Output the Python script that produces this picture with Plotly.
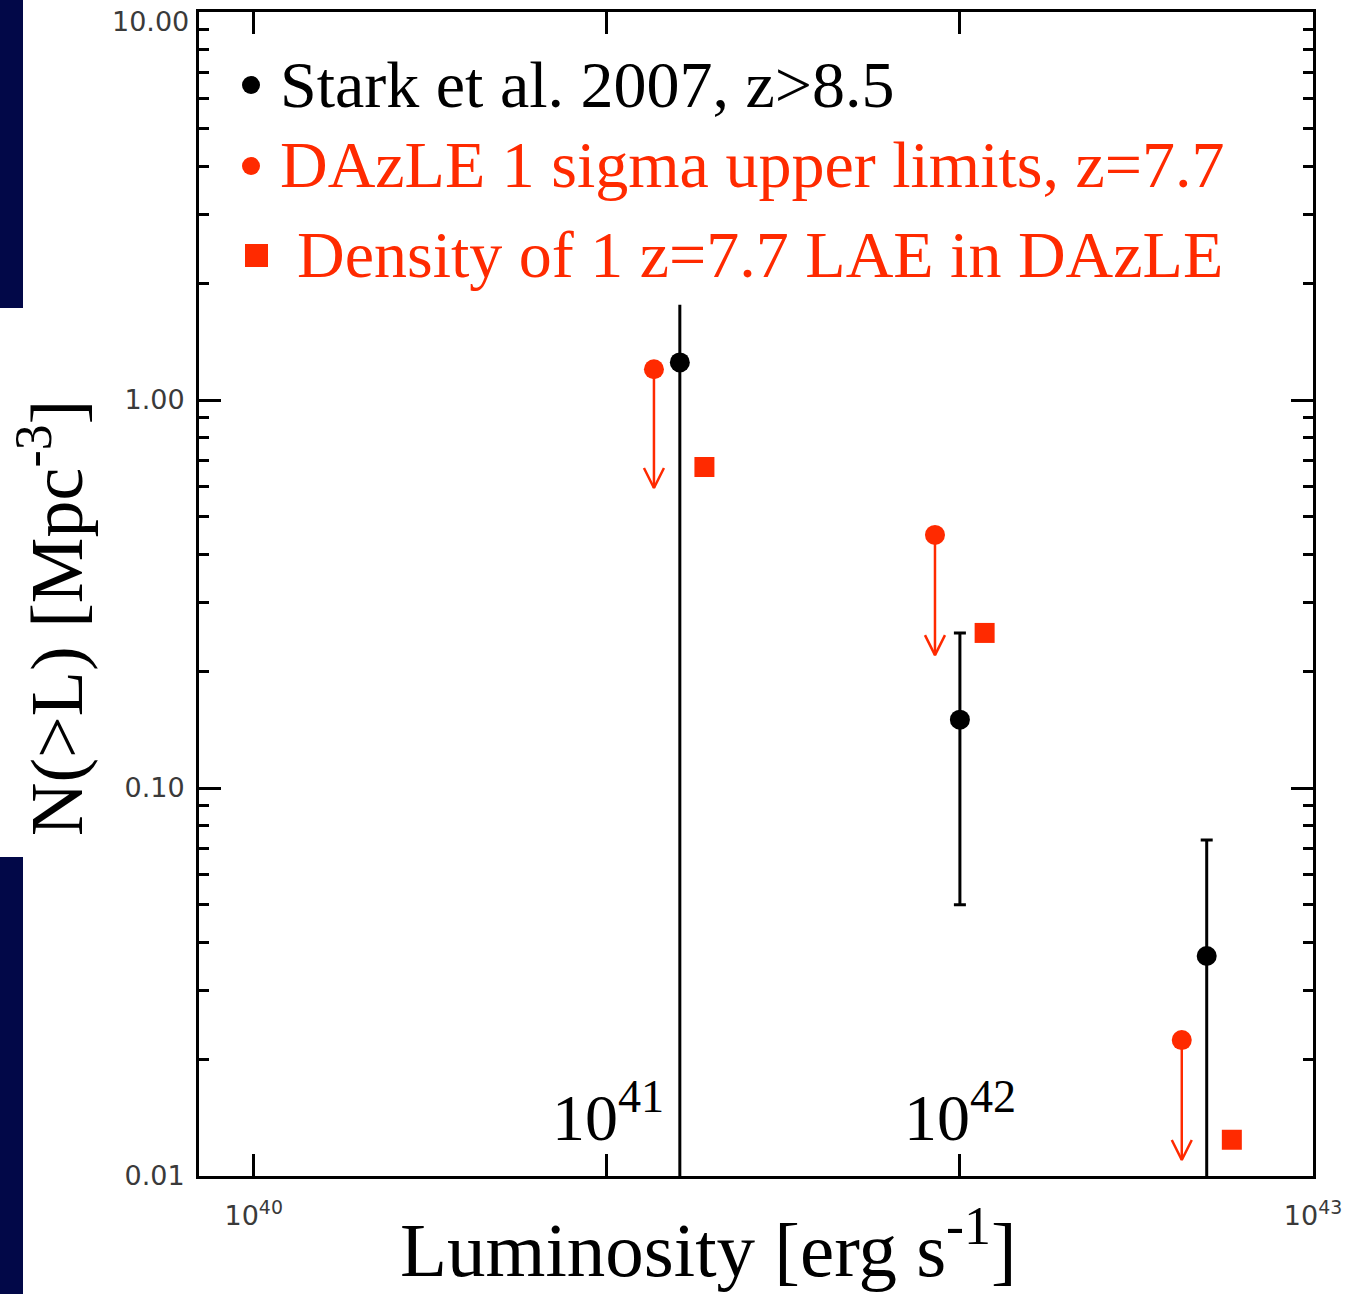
import numpy as np
import plotly.graph_objects as go

# ---------------- data ----------------
stark_L = [1.61e41, 1.0e42, 5.0e42]
stark_N = [1.25, 0.150, 0.0369]
stark_N_hi = [1.76, 0.251, 0.0734]
stark_N_lo = [1e-3, 0.0500, 1e-3]   # lower ends below the plotted range

dazle_L = [1.36e41, 8.5e41, 4.25e42]
dazle_N = [1.20, 0.449, 0.0224]
dazle_arrow_tip = [0.593, 0.220, 0.0110]

lae_L = [1.89e41, 1.175e42, 5.89e42]
lae_N = [0.672, 0.251, 0.0124]

y_tickvals = [0.01, 0.1, 1.0, 10.0]
y_ticktext = ["0.01", "0.10", "1.00", ""]
y_top_label = "10.00"          # top tick label, drawn slightly below the frame corner
x_tickvals = [1e40, 1e41, 1e42, 1e43]
x_ticktext = ["10<sup>40</sup>", "", "", "10<sup>43</sup>"]

legend_labels = ["Stark et al. 2007, z>8.5",
                 "DAzLE 1 sigma upper limits, z=7.7",
                 "Density of 1 z=7.7 LAE in DAzLE"]

RED = "#ff2a00"
BLACK = "#000000"
SERIF = "Liberation Serif, Times New Roman, serif"
TICKFONT = dict(family="DejaVu Sans, Arial, sans-serif", size=27, color="#3a3a3a")

# ---------------- layout geometry ----------------
W, H = 1348, 1294
L, R, T, B = 199, 1313, 12, 1176
X_RANGE = [np.log10(7e39), 43.0]
Y_RANGE = [-2.0, 1.0]


def px(x):
    return (x - L) / (R - L)


def py(y):
    return (B - y) / (B - T)


fig = go.Figure()

# Stark et al. points: first with uncapped bar, others with caps
for idx, capw in (([0], 0), ([1, 2], 6)):
    xs = [stark_L[i] for i in idx]
    ys = [stark_N[i] for i in idx]
    up = [stark_N_hi[i] - stark_N[i] for i in idx]
    dn = [stark_N[i] - stark_N_lo[i] for i in idx]
    fig.add_trace(go.Scatter(
        x=xs, y=ys, mode="markers",
        marker=dict(color=BLACK, size=20, symbol="circle"),
        error_y=dict(type="data", symmetric=False, array=up, arrayminus=dn,
                     color=BLACK, thickness=3, width=capw),
        showlegend=False, hoverinfo="skip"))

# DAzLE upper-limit arrows (shaft + open V head), built from data
dec_x = (X_RANGE[1] - X_RANGE[0]) / (R - L)   # decades per pixel
dec_y = (Y_RANGE[1] - Y_RANGE[0]) / (B - T)
head_hw, head_h = 10, 20
ax_, ay_ = [], []
for xv, y0, yt in zip(dazle_L, dazle_N, dazle_arrow_tip):
    ax_ += [xv, xv, None]
    ay_ += [y0, yt, None]
    ax_ += [xv * 10 ** (-head_hw * dec_x), xv, xv * 10 ** (head_hw * dec_x), None]
    ay_ += [yt * 10 ** (head_h * dec_y), yt, yt * 10 ** (head_h * dec_y), None]
fig.add_trace(go.Scatter(x=ax_, y=ay_, mode="lines",
                         line=dict(color=RED, width=2.5),
                         showlegend=False, hoverinfo="skip"))

fig.add_trace(go.Scatter(
    x=dazle_L, y=dazle_N, mode="markers",
    marker=dict(color=RED, size=20, symbol="circle"),
    showlegend=False, hoverinfo="skip"))

fig.add_trace(go.Scatter(
    x=lae_L, y=lae_N, mode="markers",
    marker=dict(color=RED, size=20, symbol="square"),
    showlegend=False, hoverinfo="skip"))

# ---------------- shapes ----------------
shapes = []
NAVY = "#020848"
for y0, y1 in ((0, 308), (857, 1294)):
    shapes.append(dict(type="rect", xref="paper", yref="paper",
                       x0=px(0), x1=px(23), y0=py(y1), y1=py(y0),
                       fillcolor=NAVY, line=dict(width=0), layer="below"))
# legend markers
shapes.append(dict(type="circle", xref="paper", yref="paper",
                   x0=px(242), x1=px(260), y0=py(94), y1=py(76),
                   fillcolor=BLACK, line=dict(width=0)))
shapes.append(dict(type="circle", xref="paper", yref="paper",
                   x0=px(242), x1=px(260), y0=py(175), y1=py(157),
                   fillcolor=RED, line=dict(width=0)))
shapes.append(dict(type="rect", xref="paper", yref="paper",
                   x0=px(245), x1=px(268), y0=py(267), y1=py(244),
                   fillcolor=RED, line=dict(width=0)))

# ---------------- annotations ----------------
ann = []
for lab, col, xl, yc in zip(legend_labels, [BLACK, RED, RED], [278, 278, 295], [84, 165, 254]):
    ann.append(dict(text=lab, xref="paper", yref="paper", x=px(xl), y=py(yc),
                    xanchor="left", yanchor="middle", showarrow=False,
                    font=dict(family=SERIF, size=66, color=col)))

for dec, xc in ((41, 608), (42, 960)):
    ann.append(dict(text="10<sup>%d</sup>" % dec, xref="paper", yref="paper",
                    x=px(xc), y=py(1112), xanchor="center", yanchor="middle",
                    showarrow=False, font=dict(family=SERIF, size=66, color=BLACK)))

ann.append(dict(text=y_top_label, xref="paper", yref="paper",
                x=px(191), y=py(22), xanchor="right", yanchor="middle",
                showarrow=False, font=TICKFONT))

ann.append(dict(text="Luminosity [erg s<sup>-1</sup>]", xref="paper", yref="paper",
                x=px(708), y=py(1244), xanchor="center", yanchor="middle",
                showarrow=False, font=dict(family=SERIF, size=77, color=BLACK)))
ann.append(dict(text="N(>L) [Mpc<sup>-3</sup>]", xref="paper", yref="paper",
                x=px(52), y=py(618), xanchor="center", yanchor="middle",
                textangle=-90, showarrow=False,
                font=dict(family=SERIF, size=74, color=BLACK)))

minor_y = [k * 10.0 ** d for d in (-2, -1, 0) for k in range(2, 10)]

fig.update_layout(
    width=W, height=H,
    margin=dict(l=L, r=W - R, t=T, b=H - B, pad=0, autoexpand=False),
    paper_bgcolor="white", plot_bgcolor="white",
    showlegend=False,
    shapes=shapes, annotations=ann,
    xaxis=dict(type="log", range=X_RANGE, showgrid=False, zeroline=False,
               automargin=False, ticklabeloverflow="allow",
               showline=True, linecolor=BLACK, linewidth=3, mirror="ticks",
               ticks="inside", ticklen=22, tickwidth=3, tickcolor=BLACK,
               tickmode="array", tickvals=x_tickvals, ticktext=x_ticktext,
               tickfont=TICKFONT, ticklabelstandoff=14),
    yaxis=dict(type="log", range=Y_RANGE, showgrid=False, zeroline=False,
               automargin=False, ticklabeloverflow="allow",
               showline=True, linecolor=BLACK, linewidth=3, mirror="ticks",
               ticks="inside", ticklen=22, tickwidth=3, tickcolor=BLACK,
               tickmode="array", tickvals=y_tickvals, ticktext=y_ticktext,
               tickfont=TICKFONT, ticklabelstandoff=6,
               minor=dict(ticks="inside", ticklen=10, tickwidth=3,
                          tickcolor=BLACK, tickmode="array", tickvals=minor_y,
                          showgrid=False)),
)

fig.write_html("out.html")
